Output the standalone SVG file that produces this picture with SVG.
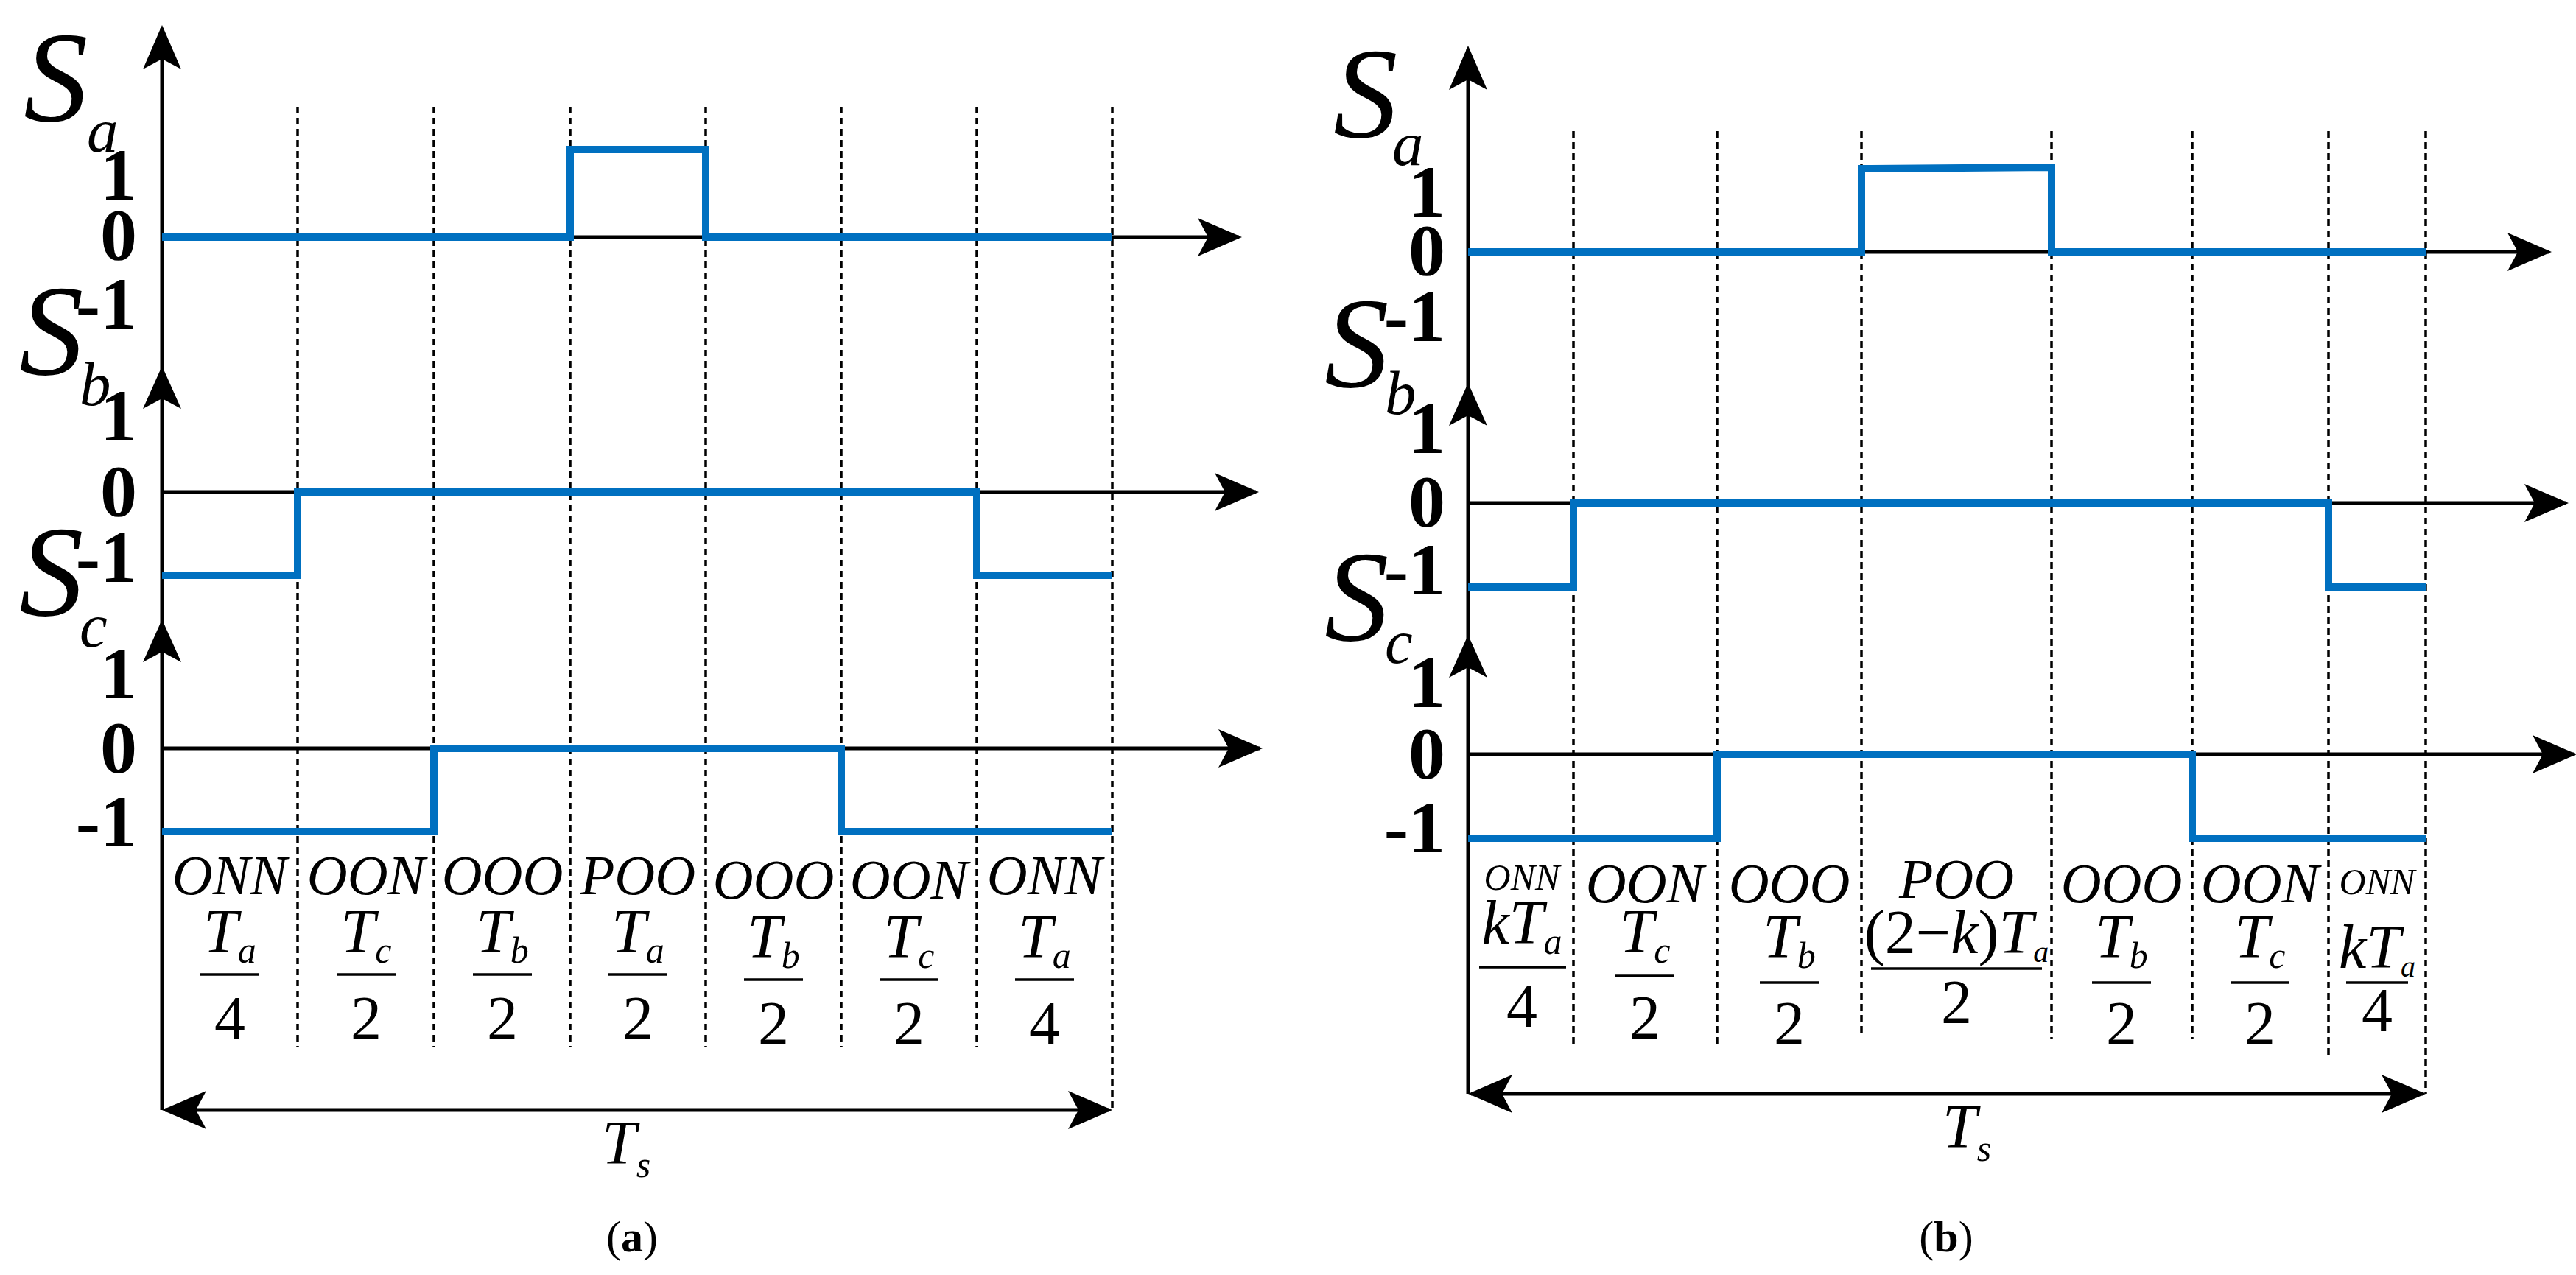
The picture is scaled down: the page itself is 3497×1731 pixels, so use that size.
<svg xmlns="http://www.w3.org/2000/svg" width="3497" height="1731" viewBox="0 0 3497 1731">
<style>
.ax{stroke:#000;stroke-width:5;fill:none}
.ds{stroke:#000;stroke-width:3.5;stroke-dasharray:9,6;fill:none}
.sg{stroke:#0070C0;stroke-width:10;fill:none;stroke-linejoin:miter}
.fl{stroke:#000;stroke-width:3.5}
text{font-family:"Liberation Serif","DejaVu Serif","Times New Roman",serif}
.S{font-style:italic;font-size:175px}
.sub{font-style:italic;font-size:85px}
.tk{font-weight:bold;font-size:100px;text-anchor:end}
.lb{font-style:italic;font-size:76px;text-anchor:middle}
.lbs{font-style:italic;font-size:50px;text-anchor:middle}
.nm{font-size:84px;text-anchor:middle}
.cap{font-size:60px;text-anchor:middle}
</style>
<defs>
<marker id="ah" markerUnits="userSpaceOnUse" markerWidth="60" markerHeight="52" refX="56" refY="26" orient="auto-start-reverse" viewBox="0 0 60 52">
<path d="M0,0 L60,26 L0,52 L14,26 Z" fill="#000"/>
</marker>
<path id="up" d="M0,0 L26,58 L0,44 L-26,58 Z" fill="#000"/>
</defs>

<g id="panel-a">
<g id="axes-a">
<line class="ax" x1="220" y1="1507" x2="220" y2="38" marker-end="url(#ah)"/>
<use href="#up" x="220" y="497"/>
<use href="#up" x="220" y="841"/>
<line class="ax" x1="220" y1="322" x2="1682" y2="322" marker-end="url(#ah)"/>
<line class="ax" x1="220" y1="668" x2="1705" y2="668" marker-end="url(#ah)"/>
<line class="ax" x1="220" y1="1016" x2="1710" y2="1016" marker-end="url(#ah)"/>
<line class="ax" x1="224" y1="1507" x2="1506" y2="1507" marker-start="url(#ah)" marker-end="url(#ah)"/>
</g>
<g id="dashes-a">
<line class="ds" x1="404" y1="145" x2="404" y2="1422"/>
<line class="ds" x1="589" y1="145" x2="589" y2="1422"/>
<line class="ds" x1="774" y1="145" x2="774" y2="1422"/>
<line class="ds" x1="958" y1="145" x2="958" y2="1422"/>
<line class="ds" x1="1142" y1="145" x2="1142" y2="1422"/>
<line class="ds" x1="1326" y1="145" x2="1326" y2="1422"/>
<line class="ds" x1="1510" y1="145" x2="1510" y2="1507"/>
</g>
<g id="signals-a">
<polyline class="sg" points="220,322 774,322 774,203 958,203 958,322 1510,322"/>
<polyline class="sg" points="220,781 404,781 404,668 1326,668 1326,781 1510,781"/>
<polyline class="sg" points="220,1129 589,1129 589,1016 1142,1016 1142,1129 1510,1129"/>
</g>
<g id="labels-a">
<text class="S" x="32" y="164">S</text><text class="sub" x="118" y="206">a</text>
<text class="tk" x="186" y="271">1</text><text class="tk" x="186" y="352">0</text><text class="tk" x="186" y="446">-1</text>
<text class="S" x="26" y="508">S</text><text class="sub" x="108" y="550">b</text>
<text class="tk" x="186" y="598">1</text><text class="tk" x="186" y="700">0</text><text class="tk" x="186" y="790">-1</text>
<text class="S" x="26" y="835">S</text><text class="sub" x="108" y="878">c</text>
<text class="tk" x="186" y="948">1</text><text class="tk" x="186" y="1048">0</text><text class="tk" x="186" y="1149">-1</text>
</g>
<g id="segments-a">
<text class="lb" x="312" y="1214">ONN</text>
<text class="nm" x="312" y="1293"><tspan font-style="italic">T</tspan><tspan font-style="italic" font-size="50" dy="14">a</tspan></text>
<line class="fl" x1="272" y1="1323" x2="352" y2="1323"/><text class="nm" x="312" y="1411">4</text>
<text class="lb" x="497" y="1214">OON</text>
<text class="nm" x="497" y="1293"><tspan font-style="italic">T</tspan><tspan font-style="italic" font-size="50" dy="14">c</tspan></text>
<line class="fl" x1="457" y1="1323" x2="537" y2="1323"/><text class="nm" x="497" y="1411">2</text>
<text class="lb" x="682" y="1214">OOO</text>
<text class="nm" x="682" y="1293"><tspan font-style="italic">T</tspan><tspan font-style="italic" font-size="50" dy="14">b</tspan></text>
<line class="fl" x1="642" y1="1323" x2="722" y2="1323"/><text class="nm" x="682" y="1411">2</text>
<text class="lb" x="866" y="1214">POO</text>
<text class="nm" x="866" y="1293"><tspan font-style="italic">T</tspan><tspan font-style="italic" font-size="50" dy="14">a</tspan></text>
<line class="fl" x1="826" y1="1323" x2="906" y2="1323"/><text class="nm" x="866" y="1411">2</text>
<text class="lb" x="1050" y="1220">OOO</text>
<text class="nm" x="1050" y="1300"><tspan font-style="italic">T</tspan><tspan font-style="italic" font-size="50" dy="14">b</tspan></text>
<line class="fl" x1="1010" y1="1330" x2="1090" y2="1330"/><text class="nm" x="1050" y="1418">2</text>
<text class="lb" x="1234" y="1220">OON</text>
<text class="nm" x="1234" y="1300"><tspan font-style="italic">T</tspan><tspan font-style="italic" font-size="50" dy="14">c</tspan></text>
<line class="fl" x1="1194" y1="1330" x2="1274" y2="1330"/><text class="nm" x="1234" y="1418">2</text>
<text class="lb" x="1418" y="1214">ONN</text>
<text class="nm" x="1418" y="1300"><tspan font-style="italic">T</tspan><tspan font-style="italic" font-size="50" dy="14">a</tspan></text>
<line class="fl" x1="1378" y1="1330" x2="1458" y2="1330"/><text class="nm" x="1418" y="1418">4</text>
<text class="nm" x="850" y="1580"><tspan font-style="italic">T</tspan><tspan font-style="italic" font-size="50" dy="18">s</tspan></text>
<text class="cap" x="858" y="1699">(<tspan font-weight="bold">a</tspan>)</text>
</g>
</g>

<g id="panel-b">
<g id="axes-b">
<line class="ax" x1="1993" y1="1485" x2="1993" y2="66" marker-end="url(#ah)"/>
<use href="#up" x="1993" y="520"/>
<use href="#up" x="1993" y="862"/>
<line class="ax" x1="1993" y1="342" x2="3460" y2="342" marker-end="url(#ah)"/>
<line class="ax" x1="1993" y1="683" x2="3483" y2="683" marker-end="url(#ah)"/>
<line class="ax" x1="1993" y1="1024" x2="3494" y2="1024" marker-end="url(#ah)"/>
<line class="ax" x1="1997" y1="1485" x2="3289" y2="1485" marker-start="url(#ah)" marker-end="url(#ah)"/>
</g>
<g id="dashes-b">
<line class="ds" x1="2136" y1="178" x2="2136" y2="1417"/>
<line class="ds" x1="2331" y1="178" x2="2331" y2="1417"/>
<line class="ds" x1="2527" y1="178" x2="2527" y2="1405"/>
<line class="ds" x1="2785" y1="178" x2="2785" y2="1410"/>
<line class="ds" x1="2976" y1="178" x2="2976" y2="1410"/>
<line class="ds" x1="3161" y1="178" x2="3161" y2="1435"/>
<line class="ds" x1="3293" y1="178" x2="3293" y2="1485"/>
</g>
<g id="signals-b">
<polyline class="sg" points="1993,342 2527,342 2527,229 2785,227 2785,342 3293,342"/>
<polyline class="sg" points="1993,797 2136,797 2136,683 3161,683 3161,797 3293,797"/>
<polyline class="sg" points="1993,1138 2331,1138 2331,1024 2976,1024 2976,1138 3293,1138"/>
</g>
<g id="labels-b">
<text class="S" x="1810" y="186">S</text><text class="sub" x="1890" y="224">a</text>
<text class="tk" x="1962" y="294">1</text><text class="tk" x="1962" y="373">0</text><text class="tk" x="1962" y="463">-1</text>
<text class="S" x="1798" y="525">S</text><text class="sub" x="1880" y="562">b</text>
<text class="tk" x="1962" y="615">1</text><text class="tk" x="1962" y="714">0</text><text class="tk" x="1962" y="807">-1</text>
<text class="S" x="1798" y="869">S</text><text class="sub" x="1880" y="900">c</text>
<text class="tk" x="1962" y="960">1</text><text class="tk" x="1962" y="1056">0</text><text class="tk" x="1962" y="1157">-1</text>
</g>
<g id="segments-b">
<text class="lbs" x="2066" y="1208">ONN</text>
<text class="nm" x="2066" y="1281"><tspan font-style="italic">kT</tspan><tspan font-style="italic" font-size="50" dy="14">a</tspan></text>
<line class="fl" x1="2008" y1="1313" x2="2126" y2="1313"/><text class="nm" x="2066" y="1394">4</text>
<text class="lb" x="2233" y="1225">OON</text>
<text class="nm" x="2233" y="1293"><tspan font-style="italic">T</tspan><tspan font-style="italic" font-size="50" dy="14">c</tspan></text>
<line class="fl" x1="2193" y1="1325" x2="2273" y2="1325"/><text class="nm" x="2233" y="1410">2</text>
<text class="lb" x="2429" y="1225">OOO</text>
<text class="nm" x="2429" y="1300"><tspan font-style="italic">T</tspan><tspan font-style="italic" font-size="50" dy="14">b</tspan></text>
<line class="fl" x1="2389" y1="1334" x2="2469" y2="1334"/><text class="nm" x="2429" y="1418">2</text>
<text class="lb" x="2656" y="1219">POO</text>
<text class="nm" x="2656" y="1294" font-size="64">(2−<tspan font-style="italic">k</tspan>)<tspan font-style="italic">T</tspan><tspan font-style="italic" font-size="42" dy="12">a</tspan></text>
<line class="fl" x1="2540" y1="1315" x2="2772" y2="1315"/><text class="nm" x="2656" y="1389" font-size="66">2</text>
<text class="lb" x="2880" y="1225">OOO</text>
<text class="nm" x="2880" y="1300"><tspan font-style="italic">T</tspan><tspan font-style="italic" font-size="50" dy="14">b</tspan></text>
<line class="fl" x1="2840" y1="1334" x2="2920" y2="1334"/><text class="nm" x="2880" y="1418">2</text>
<text class="lb" x="3068" y="1225">OON</text>
<text class="nm" x="3068" y="1300"><tspan font-style="italic">T</tspan><tspan font-style="italic" font-size="50" dy="14">c</tspan></text>
<line class="fl" x1="3028" y1="1334" x2="3108" y2="1334"/><text class="nm" x="3068" y="1418">2</text>
<text class="lbs" x="3227" y="1214">ONN</text>
<text class="nm" x="3227" y="1314" font-size="62"><tspan font-style="italic">kT</tspan><tspan font-style="italic" font-size="40" dy="12">a</tspan></text>
<line class="fl" x1="3185" y1="1334" x2="3269" y2="1334"/><text class="nm" x="3227" y="1400" font-size="62">4</text>
<text class="nm" x="2670" y="1558"><tspan font-style="italic">T</tspan><tspan font-style="italic" font-size="50" dy="18">s</tspan></text>
<text class="cap" x="2642" y="1699">(<tspan font-weight="bold">b</tspan>)</text>
</g>
</g>
</svg>
